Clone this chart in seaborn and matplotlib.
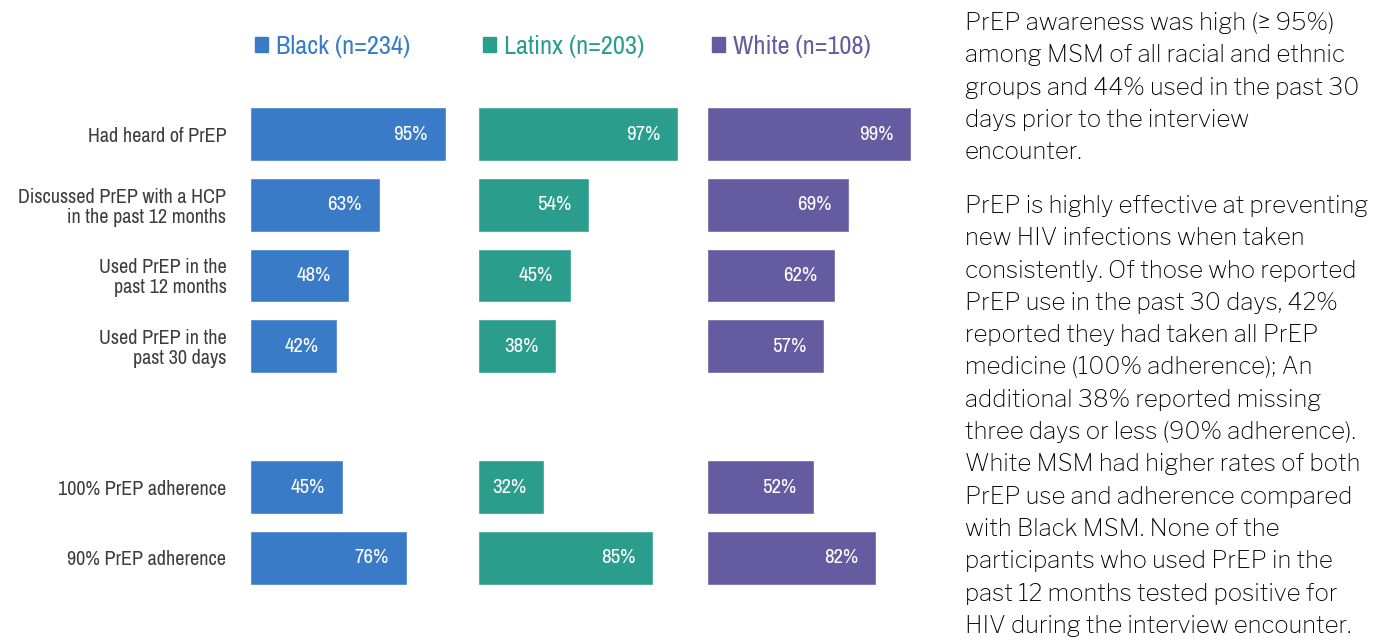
import matplotlib
matplotlib.use("Agg")
import matplotlib.pyplot as plt
from matplotlib import font_manager
from matplotlib.font_manager import FontProperties
from matplotlib.patches import Patch
import pandas as pd
import seaborn as sns

# ---- data -------------------------------------------------------------
measures = [
    "Had heard of PrEP",
    "Discussed PrEP with a HCP\nin the past 12 months",
    "Used PrEP in the\npast 12 months",
    "Used PrEP in the\npast 30 days",
    "100% PrEP adherence",
    "90% PrEP adherence",
]
groups = ["Black (n=234)", "Latinx (n=203)", "White (n=108)"]
black = [95, 63, 48, 42, 45, 76]
latinx = [97, 54, 45, 38, 32, 85]
white = [99, 69, 62, 57, 52, 82]
colors = ["#3A7BC8", "#2A9D8C", "#655BA1"]

paragraph_1 = [
    "PrEP awareness was high (\u2265 95%)",
    "among MSM of all racial and ethnic",
    "groups and 44% used in the past 30",
    "days prior to the interview",
    "encounter.",
]
paragraph_2 = [
    "PrEP is highly effective at preventing",
    "new HIV infections when taken",
    "consistently. Of those who reported",
    "PrEP use in the past 30 days, 42%",
    "reported they had taken all PrEP",
    "medicine (100% adherence); An",
    "additional 38% reported missing",
    "three days or less (90% adherence).",
    "White MSM had higher rates of both",
    "PrEP use and adherence compared",
    "with Black MSM. None of the",
    "participants who used PrEP in the",
    "past 12 months tested positive for",
    "HIV during the interview encounter.",
]

# ---- fonts ------------------------------------------------------------
sns.set_theme(style="white")
available = {f.name for f in font_manager.fontManager.ttflist}


def pick(candidates, default):
    for c in candidates:
        if c in available:
            return c
    return default


narrow_family = pick(["Archivo Narrow", "Roboto Condensed", "Asap Condensed",
                      "Liberation Sans Narrow"], None)
if narrow_family:
    narrow = dict(family=narrow_family, stretch="condensed", weight="medium")
else:
    narrow = dict(family="DejaVu Sans", stretch="condensed", weight="normal")
body_family = pick(["Libre Franklin", "Liberation Sans"], "DejaVu Sans")
plt.rcParams["font.family"] = [body_family, "DejaVu Sans"]

W, H = 1376, 641
fig = plt.figure(figsize=(W / 100, H / 100), dpi=100)

# one blank row separates the uptake measures from the adherence ones
order = measures[:4] + [" "] + measures[4:]

panel_left = [250, 478, 707]
for i, (name, vals, col) in enumerate(zip(groups, [black, latinx, white], colors)):
    ax = fig.add_axes([panel_left[i] / W, 48 / H, 206 / W, 494 / H])
    df = pd.DataFrame({"measure": measures, "pct": vals})
    sns.barplot(data=df, x="pct", y="measure", order=order, color=col,
                saturation=1, width=0.76, ax=ax, orient="h", errorbar=None)
    ax.set_xlim(0, 100)
    ax.set_ylim(6.5, -0.5)
    ax.set_xlabel("")
    ax.set_ylabel("")
    ax.set_xticks([])
    sns.despine(ax=ax, left=True, bottom=True)
    ax.tick_params(axis="y", length=0, pad=17)
    if i == 0:
        for lab in ax.get_yticklabels():
            lab.set_fontsize(14.5)
            lab.set_family(narrow["family"])
            lab.set_stretch(narrow["stretch"])
            lab.set_weight(narrow["weight"])
            lab.set_color("#3d3d3d")
            lab.set_linespacing(1.05)
    else:
        ax.set_yticklabels([])

    # percentage labels inside the bar ends
    for bar in ax.patches:
        w = bar.get_width()
        if not w == w or w == 0:
            continue
        yc = bar.get_y() + bar.get_height() / 2
        ax.annotate(f"{w:.0f}%", (w, yc), xytext=(-35, 0),
                    textcoords="offset pixels", ha="center", va="center",
                    color="white", fontsize=15, **narrow)

    leg = ax.legend(handles=[Patch(color=col, label=name)],
                    loc="center left", bbox_to_anchor=(0.025, 1 + 53 / 494),
                    frameon=False, handlelength=0.5, handleheight=0.5,
                    handletextpad=0.3, borderaxespad=0, borderpad=0,
                    prop=FontProperties(size=19, **narrow))
    for t in leg.get_texts():
        t.set_color(col)

# ---- commentary on the right -------------------------------------------
x_txt = 965 / W
step = 32.3
for k, line in enumerate(paragraph_1):
    fig.text(x_txt, 1 - (30 + k * step) / H, line, fontsize=17.3,
             color="black", va="baseline", ha="left")
for k, line in enumerate(paragraph_2):
    fig.text(x_txt, 1 - (213 + k * step) / H, line, fontsize=17.3,
             color="black", va="baseline", ha="left")

fig.savefig("out.png", dpi=100)
